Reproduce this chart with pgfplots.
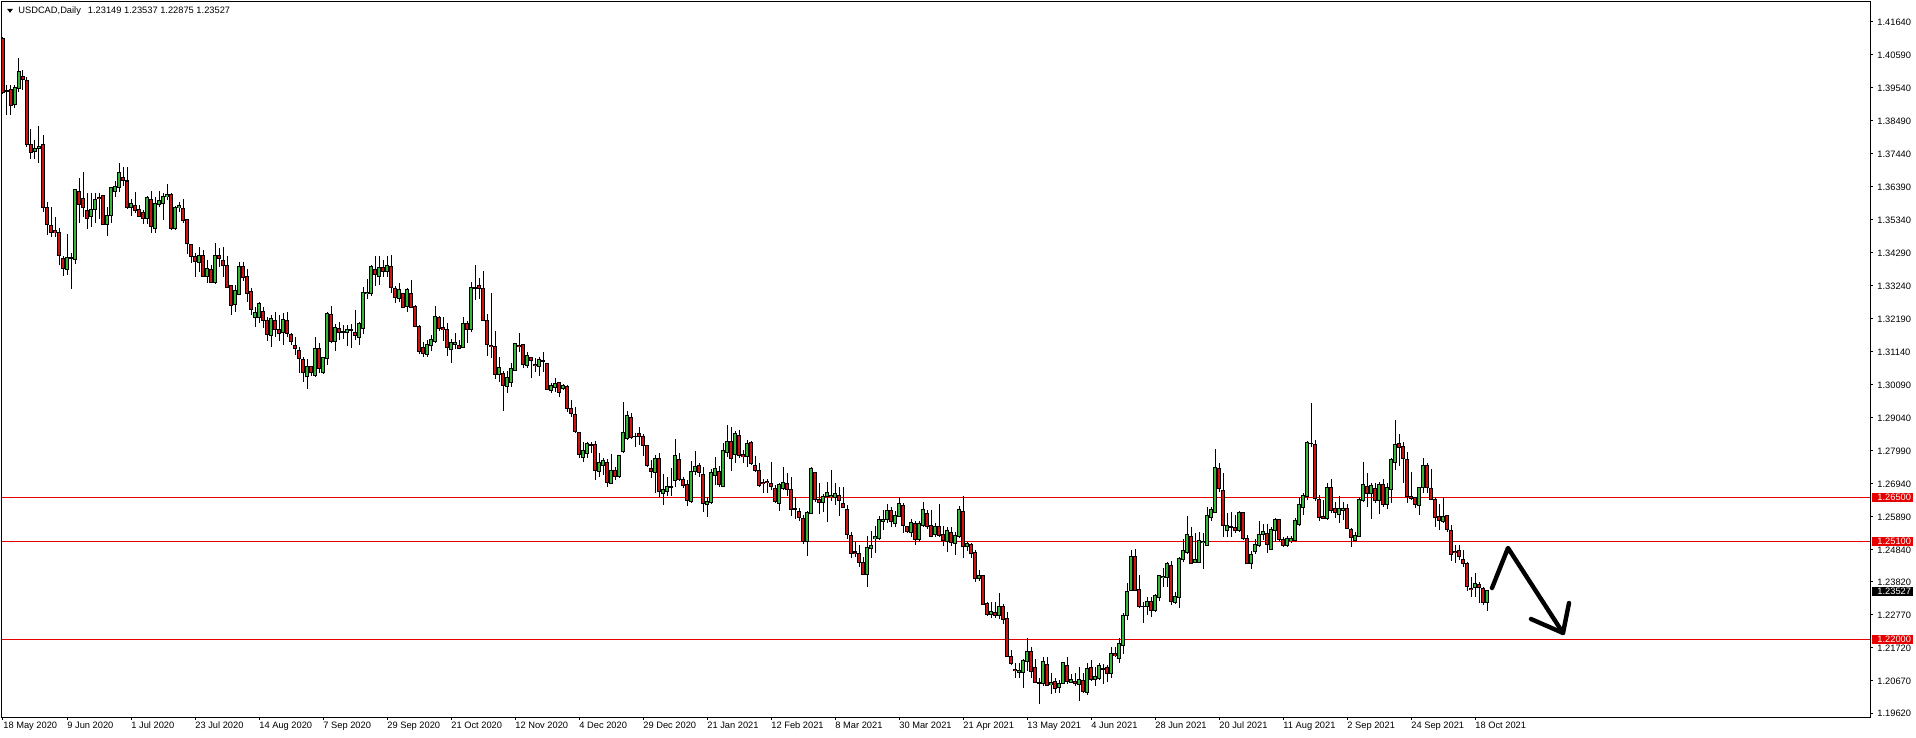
\documentclass[border=0pt]{standalone}
\usepackage{pgfplots}
\pgfplotsset{compat=1.18}
\usepackage{pgfplotstable}
\usepackage{fontspec}
\setmainfont{Liberation Sans}
\definecolor{bull}{RGB}{55,182,55}
\definecolor{bear}{RGB}{205,20,20}
\definecolor{lvl}{RGB}{230,0,0}
\newcommand{\lbl}{\fontsize{4.65}{5}\selectfont}

\pgfplotstableread{
i o h l c
0 1.4112 1.4117 1.3936 1.3939
1 1.3945 1.3963 1.3868 1.3946
2 1.3948 1.3963 1.3868 1.3899
3 1.3903 1.3963 1.3889 1.3956
4 1.3953 1.4048 1.3942 1.4008
5 1.3991 1.4011 1.3948 1.3980
6 1.3979 1.3988 1.3767 1.3775
7 1.3775 1.3822 1.3727 1.3749
8 1.3751 1.3790 1.3727 1.3762
9 1.3761 1.3833 1.3714 1.3769
10 1.3775 1.3804 1.3558 1.3573
11 1.3574 1.3590 1.3486 1.3518
12 1.3515 1.3574 1.3481 1.3494
13 1.3499 1.3544 1.3481 1.3495
14 1.3494 1.3509 1.3390 1.3420
15 1.3410 1.3420 1.3355 1.3380
16 1.3377 1.3489 1.3359 1.3414
17 1.3415 1.3430 1.3315 1.3413
18 1.3409 1.3631 1.3394 1.3631
19 1.3626 1.3668 1.3525 1.3584
20 1.3603 1.3685 1.3544 1.3574
21 1.3563 1.3621 1.3504 1.3538
22 1.3544 1.3621 1.3512 1.3566
23 1.3568 1.3619 1.3523 1.3599
24 1.3605 1.3619 1.3536 1.3601
25 1.3613 1.3613 1.3521 1.3521
26 1.3518 1.3574 1.3484 1.3549
27 1.3547 1.3640 1.3525 1.3638
28 1.3626 1.3658 1.3608 1.3641
29 1.3638 1.3716 1.3624 1.3685
30 1.3670 1.3703 1.3642 1.3661
31 1.3658 1.3703 1.3569 1.3573
32 1.3573 1.3601 1.3547 1.3587
33 1.3581 1.3624 1.3555 1.3563
34 1.3566 1.3581 1.3544 1.3544
35 1.3559 1.3566 1.3521 1.3538
36 1.3539 1.3610 1.3521 1.3606
37 1.3600 1.3626 1.3493 1.3513
38 1.3507 1.3608 1.3491 1.3587
39 1.3584 1.3626 1.3576 1.3597
40 1.3587 1.3621 1.3534 1.3610
41 1.3608 1.3648 1.3597 1.3615
42 1.3615 1.3621 1.3502 1.3507
43 1.3507 1.3579 1.3502 1.3574
44 1.3574 1.3592 1.3560 1.3579
45 1.3571 1.3601 1.3525 1.3532
46 1.3536 1.3536 1.3425 1.3458
47 1.3456 1.3456 1.3398 1.3419
48 1.3419 1.3428 1.3351 1.3403
49 1.3399 1.3449 1.3369 1.3420
50 1.3421 1.3438 1.3353 1.3353
51 1.3353 1.3406 1.3332 1.3380
52 1.3377 1.3391 1.3332 1.3334
53 1.3334 1.3459 1.3330 1.3420
54 1.3420 1.3444 1.3385 1.3411
55 1.3404 1.3449 1.3353 1.3388
56 1.3388 1.3419 1.3319 1.3319
57 1.3324 1.3327 1.3232 1.3263
58 1.3266 1.3327 1.3242 1.3311
59 1.3296 1.3399 1.3296 1.3385
60 1.3385 1.3399 1.3340 1.3351
61 1.3353 1.3377 1.3274 1.3300
62 1.3305 1.3316 1.3230 1.3249
63 1.3224 1.3258 1.3192 1.3241
64 1.3224 1.3274 1.3205 1.3269
65 1.3241 1.3258 1.3189 1.3213
66 1.3213 1.3226 1.3150 1.3169
67 1.3167 1.3231 1.3131 1.3219
68 1.3215 1.3242 1.3162 1.3186
69 1.3186 1.3231 1.3150 1.3173
70 1.3175 1.3239 1.3136 1.3218
71 1.3213 1.3242 1.3162 1.3173
72 1.3170 1.3173 1.3136 1.3147
73 1.3133 1.3162 1.3104 1.3125
74 1.3118 1.3131 1.3046 1.3093
75 1.3090 1.3099 1.3019 1.3048
76 1.3035 1.3090 1.2995 1.3069
77 1.3067 1.3069 1.3037 1.3048
78 1.3040 1.3160 1.3035 1.3124
79 1.3125 1.3141 1.3048 1.3062
80 1.3048 1.3099 1.3044 1.3097
81 1.3093 1.3241 1.3072 1.3237
82 1.3233 1.3260 1.3143 1.3146
83 1.3147 1.3203 1.3118 1.3192
84 1.3189 1.3209 1.3152 1.3176
85 1.3176 1.3199 1.3154 1.3179
86 1.3175 1.3201 1.3133 1.3186
87 1.3184 1.3203 1.3128 1.3181
88 1.3176 1.3247 1.3152 1.3165
89 1.3160 1.3209 1.3137 1.3205
90 1.3189 1.3319 1.3170 1.3304
91 1.3299 1.3345 1.3283 1.3303
92 1.3300 1.3389 1.3292 1.3386
93 1.3377 1.3419 1.3324 1.3361
94 1.3355 1.3419 1.3326 1.3383
95 1.3383 1.3406 1.3353 1.3370
96 1.3370 1.3419 1.3351 1.3389
97 1.3387 1.3422 1.3300 1.3319
98 1.3316 1.3324 1.3271 1.3288
99 1.3283 1.3332 1.3273 1.3311
100 1.3300 1.3303 1.3256 1.3256
101 1.3258 1.3317 1.3242 1.3313
102 1.3300 1.3343 1.3256 1.3256
103 1.3260 1.3264 1.3194 1.3194
104 1.3195 1.3199 1.3107 1.3115
105 1.3129 1.3145 1.3099 1.3108
106 1.3105 1.3152 1.3099 1.3139
107 1.3134 1.3167 1.3118 1.3152
108 1.3147 1.3260 1.3141 1.3227
109 1.3222 1.3228 1.3180 1.3189
110 1.3191 1.3224 1.3150 1.3185
111 1.3184 1.3205 1.3101 1.3128
112 1.3121 1.3154 1.3080 1.3144
113 1.3137 1.3175 1.3124 1.3145
114 1.3133 1.3152 1.3122 1.3124
115 1.3128 1.3226 1.3126 1.3203
116 1.3203 1.3211 1.3141 1.3186
117 1.3186 1.3338 1.3178 1.3319
118 1.3316 1.3390 1.3279 1.3319
119 1.3324 1.3349 1.3281 1.3317
120 1.3317 1.3372 1.3215 1.3215
121 1.3213 1.3234 1.3101 1.3137
122 1.3135 1.3302 1.3095 1.3131
123 1.3131 1.3182 1.3029 1.3043
124 1.3043 1.3099 1.3019 1.3063
125 1.3044 1.3054 1.2927 1.3006
126 1.3003 1.3054 1.2984 1.3034
127 1.3017 1.3080 1.3003 1.3062
128 1.3054 1.3141 1.3054 1.3141
129 1.3135 1.3173 1.3115 1.3131
130 1.3136 1.3139 1.3062 1.3074
131 1.3070 1.3115 1.3062 1.3104
132 1.3097 1.3099 1.3032 1.3086
133 1.3075 1.3094 1.3049 1.3071
134 1.3067 1.3099 1.3037 1.3090
135 1.3086 1.3114 1.3051 1.3083
136 1.3077 1.3080 1.2993 1.2995
137 1.2990 1.3014 1.2984 1.3007
138 1.3001 1.3030 1.2987 1.3014
139 1.3016 1.3019 1.2971 1.2984
140 1.2997 1.3012 1.2993 1.3007
141 1.3005 1.3009 1.2922 1.2934
142 1.2934 1.2961 1.2908 1.2918
143 1.2915 1.2937 1.2855 1.2860
144 1.2858 1.2858 1.2775 1.2786
145 1.2778 1.2828 1.2765 1.2800
146 1.2791 1.2828 1.2775 1.2821
147 1.2819 1.2828 1.2791 1.2817
148 1.2818 1.2831 1.2706 1.2736
149 1.2733 1.2791 1.2717 1.2763
150 1.2753 1.2775 1.2722 1.2767
151 1.2761 1.2772 1.2685 1.2698
152 1.2696 1.2789 1.2694 1.2738
153 1.2738 1.2747 1.2706 1.2719
154 1.2719 1.2786 1.2712 1.2783
155 1.2796 1.2956 1.2793 1.2858
156 1.2839 1.2927 1.2834 1.2910
157 1.2906 1.2918 1.2836 1.2842
158 1.2846 1.2857 1.2812 1.2844
159 1.2853 1.2876 1.2818 1.2844
160 1.2845 1.2853 1.2782 1.2816
161 1.2816 1.2816 1.2747 1.2751
162 1.2743 1.2770 1.2714 1.2733
163 1.2730 1.2786 1.2664 1.2775
164 1.2775 1.2793 1.2653 1.2669
165 1.2664 1.2725 1.2627 1.2676
166 1.2669 1.2715 1.2655 1.2685
167 1.2682 1.2743 1.2655 1.2685
168 1.2704 1.2836 1.2685 1.2785
169 1.2772 1.2793 1.2704 1.2708
170 1.2708 1.2715 1.2680 1.2688
171 1.2692 1.2706 1.2624 1.2640
172 1.2638 1.2767 1.2632 1.2734
173 1.2733 1.2798 1.2722 1.2750
174 1.2753 1.2761 1.2715 1.2730
175 1.2724 1.2749 1.2605 1.2632
176 1.2629 1.2653 1.2589 1.2638
177 1.2634 1.2740 1.2630 1.2731
178 1.2721 1.2780 1.2690 1.2742
179 1.2734 1.2751 1.2685 1.2693
180 1.2685 1.2825 1.2683 1.2801
181 1.2794 1.2881 1.2780 1.2828
182 1.2828 1.2874 1.2736 1.2775
183 1.2788 1.2863 1.2761 1.2855
184 1.2847 1.2867 1.2775 1.2783
185 1.2786 1.2802 1.2761 1.2781
186 1.2781 1.2833 1.2749 1.2823
187 1.2826 1.2831 1.2754 1.2759
188 1.2753 1.2781 1.2733 1.2738
189 1.2737 1.2761 1.2685 1.2689
190 1.2699 1.2710 1.2666 1.2694
191 1.2702 1.2708 1.2664 1.2698
192 1.2696 1.2763 1.2674 1.2687
193 1.2679 1.2690 1.2632 1.2637
194 1.2632 1.2698 1.2609 1.2692
195 1.2680 1.2747 1.2674 1.2698
196 1.2696 1.2728 1.2655 1.2677
197 1.2675 1.2715 1.2592 1.2613
198 1.2616 1.2653 1.2581 1.2613
199 1.2606 1.2616 1.2577 1.2587
200 1.2585 1.2595 1.2502 1.2510
201 1.2510 1.2609 1.2465 1.2604
202 1.2600 1.2747 1.2598 1.2743
203 1.2729 1.2733 1.2637 1.2645
204 1.2643 1.2698 1.2598 1.2634
205 1.2634 1.2662 1.2605 1.2655
206 1.2653 1.2701 1.2574 1.2667
207 1.2654 1.2738 1.2640 1.2658
208 1.2651 1.2696 1.2627 1.2664
209 1.2657 1.2685 1.2590 1.2640
210 1.2632 1.2685 1.2616 1.2618
211 1.2613 1.2627 1.2518 1.2533
212 1.2528 1.2542 1.2459 1.2473
213 1.2477 1.2510 1.2462 1.2473
214 1.2473 1.2499 1.2430 1.2443
215 1.2444 1.2462 1.2404 1.2406
216 1.2406 1.2528 1.2365 1.2492
217 1.2489 1.2545 1.2459 1.2499
218 1.2520 1.2560 1.2473 1.2526
219 1.2520 1.2592 1.2515 1.2581
220 1.2574 1.2611 1.2547 1.2582
221 1.2579 1.2630 1.2570 1.2609
222 1.2609 1.2621 1.2558 1.2574
223 1.2568 1.2606 1.2558 1.2592
224 1.2590 1.2651 1.2588 1.2630
225 1.2624 1.2632 1.2539 1.2561
226 1.2557 1.2560 1.2539 1.2542
227 1.2540 1.2581 1.2526 1.2571
228 1.2568 1.2577 1.2499 1.2518
229 1.2518 1.2577 1.2510 1.2568
230 1.2560 1.2636 1.2558 1.2611
231 1.2600 1.2611 1.2549 1.2558
232 1.2560 1.2611 1.2524 1.2526
233 1.2534 1.2568 1.2526 1.2558
234 1.2558 1.2630 1.2526 1.2531
235 1.2534 1.2560 1.2497 1.2515
236 1.2510 1.2558 1.2476 1.2547
237 1.2539 1.2558 1.2496 1.2508
238 1.2505 1.2542 1.2467 1.2530
239 1.2526 1.2622 1.2521 1.2611
240 1.2607 1.2655 1.2457 1.2494
241 1.2494 1.2510 1.2481 1.2503
242 1.2502 1.2505 1.2457 1.2473
243 1.2476 1.2484 1.2383 1.2393
244 1.2392 1.2420 1.2386 1.2401
245 1.2403 1.2404 1.2308 1.2310
246 1.2314 1.2319 1.2274 1.2277
247 1.2279 1.2319 1.2266 1.2288
248 1.2285 1.2317 1.2266 1.2274
249 1.2274 1.2348 1.2263 1.2305
250 1.2305 1.2311 1.2248 1.2263
251 1.2266 1.2287 1.2142 1.2144
252 1.2144 1.2165 1.2117 1.2123
253 1.2104 1.2123 1.2075 1.2099
254 1.2093 1.2123 1.2075 1.2101
255 1.2093 1.2135 1.2045 1.2133
256 1.2128 1.2202 1.2099 1.2161
257 1.2161 1.2176 1.2075 1.2097
258 1.2110 1.2135 1.2059 1.2062
259 1.2062 1.2077 1.1993 1.2059
260 1.2059 1.2144 1.2050 1.2129
261 1.2119 1.2144 1.2050 1.2053
262 1.2054 1.2093 1.2025 1.2063
263 1.2066 1.2075 1.2027 1.2042
264 1.2045 1.2070 1.2027 1.2059
265 1.2059 1.2128 1.2056 1.2125
266 1.2117 1.2142 1.2056 1.2064
267 1.2062 1.2089 1.2059 1.2070
268 1.2066 1.2093 1.2050 1.2059
269 1.2056 1.2112 1.2004 1.2070
270 1.2067 1.2093 1.2029 1.2032
271 1.2030 1.2123 1.2022 1.2107
272 1.2108 1.2133 1.2067 1.2072
273 1.2070 1.2112 1.2050 1.2080
274 1.2075 1.2123 1.2070 1.2115
275 1.2107 1.2120 1.2057 1.2104
276 1.2110 1.2117 1.2064 1.2091
277 1.2091 1.2176 1.2077 1.2154
278 1.2154 1.2176 1.2144 1.2146
279 1.2139 1.2202 1.2123 1.2186
280 1.2181 1.2282 1.2152 1.2276
281 1.2274 1.2379 1.2261 1.2352
282 1.2354 1.2485 1.2352 1.2464
283 1.2464 1.2485 1.2353 1.2356
284 1.2358 1.2404 1.2300 1.2303
285 1.2303 1.2319 1.2250 1.2305
286 1.2303 1.2335 1.2276 1.2319
287 1.2319 1.2335 1.2271 1.2290
288 1.2290 1.2343 1.2287 1.2338
289 1.2333 1.2404 1.2322 1.2401
290 1.2396 1.2425 1.2367 1.2400
291 1.2396 1.2446 1.2365 1.2439
292 1.2435 1.2449 1.2308 1.2319
293 1.2317 1.2351 1.2311 1.2335
294 1.2332 1.2460 1.2300 1.2457
295 1.2454 1.2517 1.2446 1.2483
296 1.2475 1.2592 1.2471 1.2532
297 1.2527 1.2555 1.2439 1.2441
298 1.2443 1.2539 1.2441 1.2452
299 1.2443 1.2542 1.2441 1.2514
300 1.2508 1.2539 1.2424 1.2512
301 1.2498 1.2621 1.2496 1.2594
302 1.2586 1.2619 1.2577 1.2613
303 1.2604 1.2805 1.2602 1.2746
304 1.2743 1.2761 1.2668 1.2679
305 1.2673 1.2729 1.2524 1.2561
306 1.2545 1.2602 1.2524 1.2562
307 1.2556 1.2605 1.2526 1.2559
308 1.2556 1.2594 1.2538 1.2545
309 1.2544 1.2607 1.2541 1.2602
310 1.2602 1.2605 1.2515 1.2519
311 1.2520 1.2531 1.2439 1.2441
312 1.2441 1.2481 1.2422 1.2470
313 1.2478 1.2517 1.2471 1.2501
314 1.2499 1.2577 1.2494 1.2533
315 1.2533 1.2566 1.2515 1.2541
316 1.2536 1.2566 1.2473 1.2502
317 1.2486 1.2557 1.2483 1.2549
318 1.2545 1.2584 1.2510 1.2579
319 1.2579 1.2581 1.2513 1.2518
320 1.2517 1.2526 1.2492 1.2499
321 1.2499 1.2528 1.2494 1.2520
322 1.2513 1.2528 1.2507 1.2520
323 1.2513 1.2584 1.2510 1.2576
324 1.2566 1.2653 1.2560 1.2627
325 1.2619 1.2664 1.2595 1.2657
326 1.2655 1.2831 1.2643 1.2826
327 1.2821 1.2950 1.2812 1.2824
328 1.2820 1.2833 1.2640 1.2646
329 1.2643 1.2657 1.2577 1.2587
330 1.2589 1.2643 1.2584 1.2585
331 1.2585 1.2696 1.2579 1.2683
332 1.2683 1.2708 1.2602 1.2609
333 1.2617 1.2637 1.2584 1.2602
334 1.2596 1.2655 1.2568 1.2614
335 1.2609 1.2637 1.2579 1.2617
336 1.2616 1.2630 1.2549 1.2552
337 1.2549 1.2552 1.2492 1.2523
338 1.2515 1.2542 1.2513 1.2531
339 1.2528 1.2653 1.2524 1.2645
340 1.2640 1.2764 1.2637 1.2692
341 1.2685 1.2727 1.2621 1.2664
342 1.2662 1.2696 1.2581 1.2690
343 1.2679 1.2698 1.2634 1.2640
344 1.2640 1.2701 1.2598 1.2692
345 1.2692 1.2708 1.2621 1.2627
346 1.2627 1.2696 1.2613 1.2683
347 1.2676 1.2775 1.2634 1.2770
348 1.2761 1.2897 1.2738 1.2818
349 1.2823 1.2853 1.2751 1.2810
350 1.2814 1.2826 1.2698 1.2775
351 1.2770 1.2796 1.2632 1.2653
352 1.2653 1.2733 1.2643 1.2648
353 1.2650 1.2653 1.2616 1.2627
354 1.2624 1.2685 1.2595 1.2683
355 1.2683 1.2775 1.2666 1.2754
356 1.2754 1.2759 1.2664 1.2682
357 1.2678 1.2740 1.2643 1.2645
358 1.2643 1.2651 1.2555 1.2586
359 1.2589 1.2630 1.2547 1.2577
360 1.2574 1.2653 1.2570 1.2589
361 1.2592 1.2595 1.2542 1.2549
362 1.2547 1.2563 1.2450 1.2470
363 1.2479 1.2499 1.2443 1.2475
364 1.2483 1.2499 1.2452 1.2462
365 1.2454 1.2483 1.2430 1.2441
366 1.2441 1.2444 1.2354 1.2367
367 1.2362 1.2396 1.2335 1.2358
368 1.2365 1.2409 1.2335 1.2377
369 1.2372 1.2383 1.2314 1.2365
370 1.2361 1.2367 1.2308 1.2317
371 1.2315 1.2354 1.2288 1.2353
}\candles

\begin{document}
\begin{tikzpicture}[x=1pt,y=1pt]
\useasboundingbox (0pt,0pt) rectangle (958pt,369pt);
\begin{axis}[
  at={(1pt,368pt)}, anchor=north west,
  scale only axis, width=934pt, height=357.5pt,
  xmin=-0.25, xmax=466.75, ymin=1.19518, ymax=1.42277,
  axis line style={line width=0.5pt, black},
  tick style={black, line width=0.5pt},
  tick align=outside, major tick length=1.5pt,
  ytick pos=right, yticklabel pos=right,
  xtick pos=left, xticklabel pos=left,
  ticklabel style={font=\lbl, text=black},
  xtick={0,16,...,368},
  xticklabels={18 May 2020,9 Jun 2020,1 Jul 2020,23 Jul 2020,14 Aug 2020,7 Sep 2020,29 Sep 2020,21 Oct 2020,12 Nov 2020,4 Dec 2020,29 Dec 2020,21 Jan 2021,12 Feb 2021,8 Mar 2021,30 Mar 2021,21 Apr 2021,13 May 2021,4 Jun 2021,28 Jun 2021,20 Jul 2021,11 Aug 2021,2 Sep 2021,24 Sep 2021,18 Oct 2021},
  xticklabel style={anchor=north west, inner sep=0pt, yshift=-0.8pt},
  ytick={1.4164,1.4059,1.3954,1.3849,1.3744,1.3639,1.3534,1.3429,1.3324,1.3219,1.3114,1.3009,1.2904,1.2799,1.2694,1.2589,1.2484,1.2382,1.2277,1.2172,1.2067,1.1962},
  yticklabels={1.41640,1.40590,1.39540,1.38490,1.37440,1.36390,1.35340,1.34290,1.33240,1.32190,1.31140,1.30090,1.29040,1.27990,1.26940,1.25890,1.24840,1.23820,1.22770,1.21720,1.20670,1.19620},
  yticklabel style={anchor=west, inner sep=0pt, xshift=2pt},
  clip=true,
]
% level lines
\addplot[lvl, line width=0.5pt, mark=none] coordinates {(-0.25,1.265) (466.75,1.265)};
\addplot[lvl, line width=0.5pt, mark=none] coordinates {(-0.25,1.251) (466.75,1.251)};
\addplot[lvl, line width=0.5pt, mark=none] coordinates {(-0.25,1.220) (466.75,1.220)};
% wicks
\addplot[draw=none, mark=none, error bars/.cd, y dir=both, y explicit, error mark=none,
  error bar style={draw=black, line width=0.5pt}]
  table[x=i, y expr={(\thisrow{h}+\thisrow{l})/2}, y error expr={(\thisrow{h}-\thisrow{l})/2}] {\candles};
% body outlines
\addplot[draw=none, mark=none, error bars/.cd, y dir=both, y explicit, error mark=none,
  error bar style={draw=black, line width=1.8pt}]
  table[x=i, y expr={(\thisrow{o}+\thisrow{c})/2}, y error expr={abs(\thisrow{c}-\thisrow{o})/2+0.00016}] {\candles};
% bull fills
\addplot[draw=none, mark=none, error bars/.cd, y dir=both, y explicit, error mark=none,
  error bar style={draw=bull, line width=0.95pt}]
  table[x=i, y expr={(\thisrow{o}+\thisrow{c})/2}, y error expr={max(0,(\thisrow{c}-\thisrow{o})/2-0.00016)}] {\candles};
% bear fills
\addplot[draw=none, mark=none, error bars/.cd, y dir=both, y explicit, error mark=none,
  error bar style={draw=bear, line width=0.95pt}]
  table[x=i, y expr={(\thisrow{o}+\thisrow{c})/2}, y error expr={max(0,(\thisrow{o}-\thisrow{c})/2-0.00016)}] {\candles};
% hand-drawn arrow
\draw[line width=2.2pt, line cap=round, line join=round] (axis cs:372.25,1.23624) -- (axis cs:376.25,1.24898) -- (axis cs:390,1.22192);
\draw[line width=2.2pt, line cap=round, line join=round] (axis cs:382,1.22637) -- (axis cs:390,1.22192) -- (axis cs:391.5,1.23147);
\coordinate (L1) at (axis cs:466.75,1.265);
\coordinate (L2) at (axis cs:466.75,1.251);
\coordinate (L3) at (axis cs:466.75,1.220);
\coordinate (L4) at (axis cs:466.75,1.23527);
\end{axis}
% price boxes
\foreach \p/\t/\col in {L1/1.26500/lvl, L2/1.25100/lvl, L3/1.22000/lvl, L4/1.23527/black}{
  \fill[\col] ([xshift=1pt,yshift=-2.25pt]\p) rectangle ++(20.5pt,4.5pt);
  \node[anchor=west, inner sep=0pt, text=white, font=\lbl] at ([xshift=3.5pt]\p) {\t};
}
% header
\fill[black] (3.5pt,364.6pt) -- (6.5pt,364.6pt) -- (5pt,362.6pt) -- cycle;
\node[anchor=west, inner sep=0pt, font=\lbl] at (9pt,363.5pt) {USDCAD,Daily\hspace{3.5pt}1.23149 1.23537 1.22875 1.23527};
\end{tikzpicture}
\end{document}
